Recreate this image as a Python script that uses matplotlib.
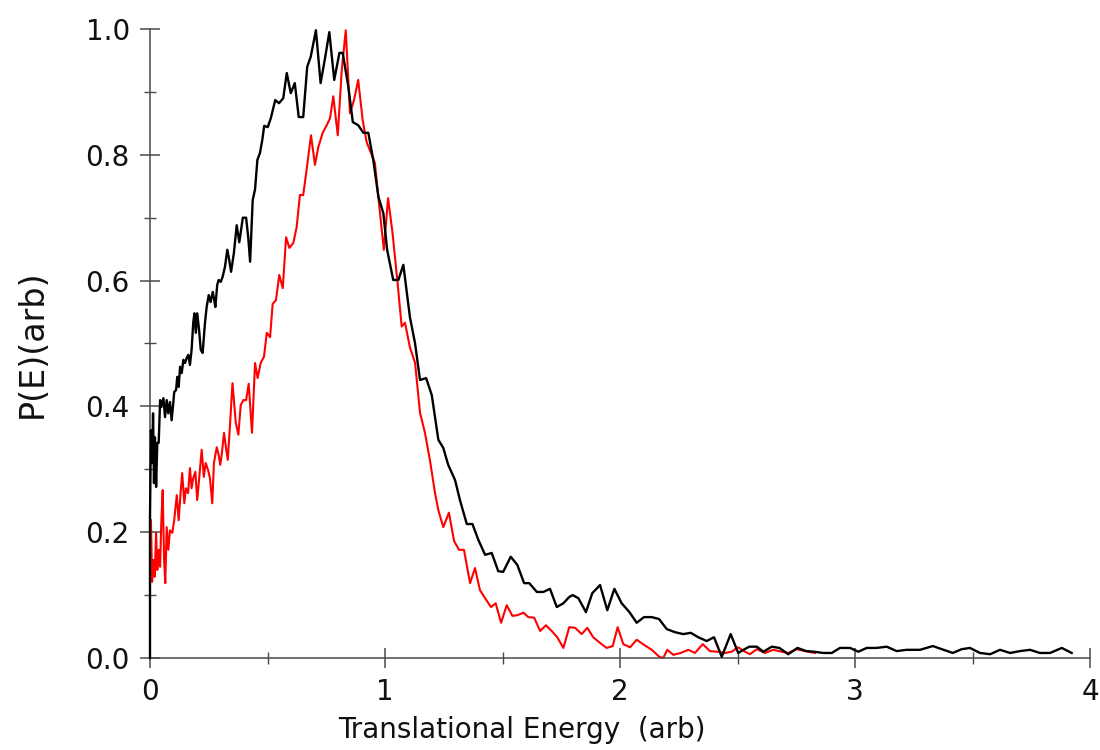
import matplotlib
matplotlib.use("Agg")
import matplotlib.pyplot as plt
from matplotlib.ticker import MultipleLocator

# ---- data ----
black_x = [0.0, 0.0, 0.004, 0.009, 0.013, 0.017, 0.021, 0.026, 0.031, 0.037, 0.043,
           0.048, 0.057, 0.064, 0.071, 0.078, 0.085, 0.092, 0.099, 0.103, 0.111,
           0.116, 0.122, 0.128, 0.135, 0.142, 0.149, 0.156, 0.163, 0.170, 0.177,
           0.184, 0.189, 0.195, 0.201, 0.209, 0.216, 0.224, 0.234, 0.241, 0.250,
           0.258, 0.267, 0.272, 0.278, 0.286, 0.292, 0.301, 0.309, 0.319, 0.329,
           0.337, 0.345, 0.357, 0.369, 0.380, 0.395, 0.409, 0.418, 0.426, 0.437,
           0.447, 0.457, 0.468, 0.478, 0.486, 0.501, 0.514, 0.533, 0.549, 0.567,
           0.582, 0.599, 0.616, 0.633, 0.652, 0.669, 0.684, 0.706, 0.726, 0.745,
           0.763, 0.784, 0.806, 0.820, 0.844, 0.863, 0.886, 0.908, 0.929, 0.950,
           0.972, 0.993, 1.009, 1.035, 1.057, 1.078, 1.106, 1.128, 1.149, 1.175,
           1.199, 1.227, 1.248, 1.269, 1.298, 1.319, 1.348, 1.372, 1.397, 1.426,
           1.454, 1.482, 1.503, 1.535, 1.563, 1.592, 1.614, 1.646, 1.674, 1.702,
           1.731, 1.759, 1.784, 1.799, 1.823, 1.855, 1.882, 1.915, 1.946, 1.976,
           2.007, 2.040, 2.071, 2.102, 2.135, 2.166, 2.199, 2.234, 2.269, 2.301,
           2.333, 2.369, 2.400, 2.433, 2.471, 2.503, 2.525, 2.550, 2.582, 2.610,
           2.646, 2.678, 2.716, 2.755, 2.792, 2.826, 2.865, 2.901, 2.936, 2.979,
           3.014, 3.050, 3.092, 3.135, 3.177, 3.220, 3.277, 3.331, 3.369, 3.416,
           3.454, 3.489, 3.532, 3.575, 3.617, 3.660, 3.702, 3.745, 3.787, 3.830,
           3.880, 3.922]
black_y = [0.0, 0.224, 0.362, 0.310, 0.389, 0.278, 0.351, 0.272, 0.342, 0.342, 0.410,
           0.399, 0.413, 0.383, 0.410, 0.389, 0.407, 0.378, 0.405, 0.423, 0.426,
           0.447, 0.431, 0.463, 0.453, 0.474, 0.469, 0.477, 0.482, 0.466, 0.490,
           0.533, 0.548, 0.517, 0.548, 0.521, 0.490, 0.485, 0.533, 0.558, 0.577,
           0.566, 0.582, 0.572, 0.558, 0.593, 0.601, 0.598, 0.606, 0.622, 0.649,
           0.633, 0.614, 0.644, 0.688, 0.661, 0.700, 0.700, 0.669, 0.630, 0.728,
           0.745, 0.792, 0.803, 0.824, 0.846, 0.844, 0.858, 0.887, 0.882, 0.890,
           0.930, 0.898, 0.914, 0.860, 0.860, 0.940, 0.956, 0.998, 0.914, 0.954,
           0.995, 0.919, 0.962, 0.962, 0.908, 0.852, 0.847, 0.835, 0.835, 0.792,
           0.733, 0.707, 0.649, 0.601, 0.601, 0.625, 0.542, 0.500, 0.442, 0.445,
           0.418, 0.347, 0.334, 0.307, 0.283, 0.251, 0.213, 0.213, 0.188, 0.164,
           0.167, 0.138, 0.137, 0.161, 0.148, 0.119, 0.119, 0.105, 0.105, 0.110,
           0.081, 0.087, 0.097, 0.100, 0.095, 0.073, 0.103, 0.116, 0.076, 0.110,
           0.087, 0.073, 0.056, 0.065, 0.065, 0.062, 0.046, 0.041, 0.038, 0.040,
           0.033, 0.027, 0.033, 0.002, 0.038, 0.008, 0.013, 0.018, 0.018, 0.010,
           0.018, 0.016, 0.006, 0.016, 0.011, 0.010, 0.008, 0.008, 0.016, 0.016,
           0.010, 0.016, 0.016, 0.018, 0.011, 0.013, 0.013, 0.019, 0.014, 0.008,
           0.014, 0.016, 0.008, 0.006, 0.013, 0.008, 0.011, 0.013, 0.008, 0.008,
           0.016, 0.008]

red_x = [0.004, 0.009, 0.014, 0.020, 0.026, 0.031, 0.037, 0.043, 0.048, 0.054,
         0.060, 0.065, 0.071, 0.078, 0.085, 0.095, 0.103, 0.114, 0.122, 0.131,
         0.137, 0.146, 0.153, 0.162, 0.170, 0.177, 0.184, 0.193, 0.201, 0.210,
         0.220, 0.229, 0.237, 0.247, 0.255, 0.265, 0.272, 0.284, 0.292, 0.299,
         0.306, 0.315, 0.323, 0.331, 0.339, 0.351, 0.365, 0.376, 0.386, 0.397,
         0.409, 0.420, 0.434, 0.447, 0.458, 0.471, 0.485, 0.497, 0.511, 0.522,
         0.536, 0.550, 0.565, 0.579, 0.593, 0.610, 0.624, 0.638, 0.652, 0.667,
         0.685, 0.702, 0.716, 0.735, 0.752, 0.766, 0.780, 0.799, 0.816, 0.833,
         0.851, 0.868, 0.886, 0.905, 0.922, 0.939, 0.957, 0.976, 0.995, 1.013,
         1.032, 1.053, 1.071, 1.085, 1.106, 1.128, 1.149, 1.170, 1.191, 1.213,
         1.227, 1.248, 1.272, 1.294, 1.315, 1.336, 1.362, 1.383, 1.404, 1.426,
         1.451, 1.471, 1.494, 1.518, 1.542, 1.563, 1.589, 1.610, 1.635, 1.660,
         1.685, 1.709, 1.733, 1.759, 1.784, 1.809, 1.837, 1.861, 1.886, 1.915,
         1.943, 1.969, 1.990, 2.014, 2.043, 2.071, 2.102, 2.135, 2.167, 2.184,
         2.201, 2.227, 2.258, 2.291, 2.319, 2.352, 2.383, 2.414, 2.447, 2.475,
         2.503, 2.532, 2.553, 2.582, 2.617, 2.652, 2.688, 2.716, 2.752, 2.787,
         2.830]
red_y = [0.219, 0.121, 0.156, 0.129, 0.199, 0.140, 0.172, 0.145, 0.215, 0.267,
         0.156, 0.119, 0.208, 0.172, 0.203, 0.199, 0.219, 0.259, 0.219, 0.267,
         0.294, 0.246, 0.270, 0.262, 0.302, 0.270, 0.286, 0.296, 0.251, 0.288,
         0.331, 0.288, 0.310, 0.299, 0.286, 0.246, 0.310, 0.335, 0.323, 0.307,
         0.326, 0.358, 0.335, 0.315, 0.362, 0.437, 0.374, 0.355, 0.402, 0.410,
         0.410, 0.436, 0.358, 0.469, 0.445, 0.469, 0.479, 0.517, 0.510, 0.563,
         0.569, 0.609, 0.588, 0.669, 0.652, 0.660, 0.685, 0.736, 0.736, 0.778,
         0.831, 0.784, 0.812, 0.835, 0.847, 0.858, 0.893, 0.831, 0.935, 0.998,
         0.866, 0.887, 0.919, 0.855, 0.820, 0.804, 0.787, 0.717, 0.649, 0.731,
         0.676, 0.598, 0.527, 0.533, 0.494, 0.469, 0.390, 0.358, 0.315, 0.262,
         0.235, 0.208, 0.231, 0.186, 0.172, 0.172, 0.119, 0.143, 0.108, 0.095,
         0.081, 0.087, 0.056, 0.084, 0.067, 0.068, 0.072, 0.065, 0.064, 0.043,
         0.052, 0.043, 0.033, 0.016, 0.049, 0.048, 0.038, 0.048, 0.033, 0.024,
         0.016, 0.019, 0.049, 0.022, 0.017, 0.029, 0.021, 0.013, 0.002, 0.000,
         0.013, 0.005, 0.008, 0.013, 0.008, 0.022, 0.011, 0.010, 0.008, 0.010,
         0.017, 0.010, 0.006, 0.014, 0.008, 0.013, 0.010, 0.008, 0.014, 0.011,
         0.008]

x_ticks = [0, 1, 2, 3, 4]
x_tick_labels = ["0", "1", "2", "3", "4"]
y_ticks = [0.0, 0.2, 0.4, 0.6, 0.8, 1.0]
y_tick_labels = ["0.0", "0.2", "0.4", "0.6", "0.8", "1.0"]
x_label = "Translational Energy  (arb)"
y_label = "P(E)(arb)"

plt.rcParams['font.family'] = ['DejaVu Sans']

fig = plt.figure(figsize=(11, 7.5), dpi=100)
ax = fig.add_axes([150/1100, 1 - 658/750, 940/1100, 629/750])

ax.plot(red_x, red_y, color='#ff0000', lw=1.5, clip_on=False, zorder=2)
ax.plot(black_x, black_y, color='#000000', lw=1.7, clip_on=False, zorder=3)

ax.set_xlim(0, 4)
ax.set_ylim(0, 1.0)

for s in ['top', 'right']:
    ax.spines[s].set_visible(False)
spine_col = '#4a4a4a'
for s in ['left', 'bottom']:
    ax.spines[s].set_color(spine_col)
    ax.spines[s].set_linewidth(1.1)

ax.set_xticks(x_ticks)
ax.set_xticklabels(x_tick_labels)
ax.set_yticks(y_ticks)
ax.set_yticklabels(y_tick_labels)
ax.xaxis.set_minor_locator(MultipleLocator(0.5))
ax.yaxis.set_minor_locator(MultipleLocator(0.1))
ax.tick_params(which='major', direction='inout', length=15, width=1.1,
               color=spine_col, labelsize=20, pad=7, labelcolor='#111111')
ax.tick_params(which='minor', direction='inout', length=8, width=1.0,
               color=spine_col)

ax.set_xlabel(x_label, fontsize=20, color='#111111')
ax.xaxis.set_label_coords(0.396, -0.1145)
ax.xaxis.label.set_va('center')
ax.set_ylabel(y_label, fontsize=24, color='#111111')
ax.yaxis.set_label_coords(-0.1255, 0.50)
ax.yaxis.label.set_va('center')

fig.savefig("out.png", dpi=100)
